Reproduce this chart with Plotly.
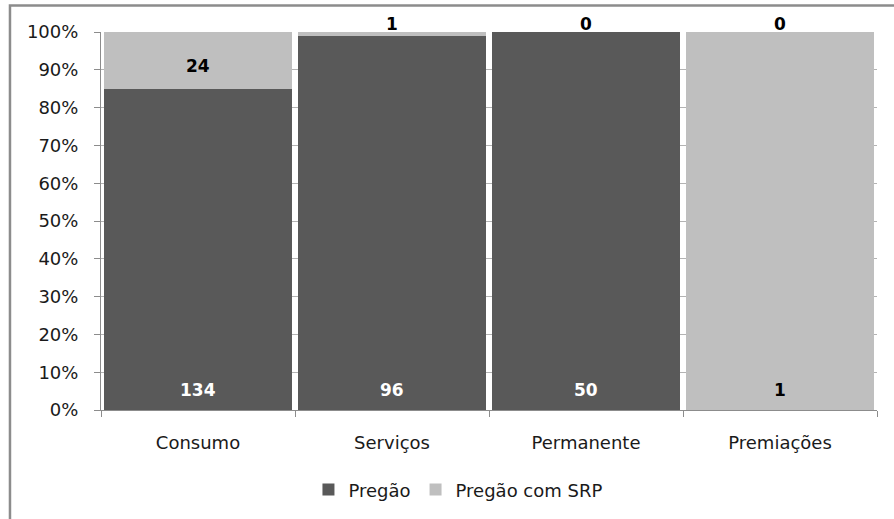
import plotly.graph_objects as go

categories = ["Consumo", "Serviços", "Permanente", "Premiações"]
pregao = [134, 96, 50, 1]
pregao_srp = [24, 1, 0, 0]

dark = "#595959"
light = "#bfbfbf"
# the last bar is shaded light in the source chart
pregao_colors = [dark, dark, dark, light]
pregao_text_colors = ["white", "white", "white", "black"]

font_family = "DejaVu Sans"
tick_size = 18
label_size = 17

fig = go.Figure()
fig.add_trace(go.Bar(
    name="Pregão", x=categories, y=pregao,
    marker=dict(color=pregao_colors, line=dict(width=0)),
))
fig.add_trace(go.Bar(
    name="Pregão com SRP", x=categories, y=pregao_srp,
    marker=dict(color=light, line=dict(width=0)),
))

# value labels: Pregão at the base, SRP in the middle of its segment (or just above the top)
annotations = []
for cat, a, b, tc in zip(categories, pregao, pregao_srp, pregao_text_colors):
    total = a + b
    annotations.append(dict(
        x=cat, y=0, xref="x", yref="y", text=f"<b>{a}</b>", showarrow=False,
        yanchor="bottom", yshift=8,
        font=dict(family=font_family, size=label_size, color=tc),
    ))
    share_a = 100.0 * a / total
    share_b = 100.0 * b / total
    if share_b >= 5:
        y, anchor, shift = share_a + share_b / 2, "middle", -5
    else:
        y, anchor, shift = 100, "bottom", -4
    annotations.append(dict(
        x=cat, y=y, xref="x", yref="y", text=f"<b>{b}</b>", showarrow=False,
        yanchor=anchor, yshift=shift,
        font=dict(family=font_family, size=label_size, color="black"),
    ))

fig.update_layout(
    width=894, height=519,
    margin=dict(l=101, r=17, t=32, b=108),
    paper_bgcolor="white", plot_bgcolor="white",
    barmode="stack", barnorm="percent", bargap=0.031,
    font=dict(family=font_family, size=tick_size, color="#1a1a1a"),
    showlegend=True,
    legend=dict(
        orientation="h", x=0.46, xanchor="center", y=-0.208, yanchor="middle",
        font=dict(family=font_family, size=tick_size, color="#1a1a1a"),
        itemwidth=30, traceorder="normal",
    ),
    annotations=annotations,
    shapes=[dict(
        type="rect", xref="paper", yref="paper",
        x0=-0.1173, x1=1.05, y0=-0.35, y1=1.07,
        line=dict(color="#8c8c8c", width=2.5), fillcolor="rgba(0,0,0,0)", layer="below",
    )],
)

fig.update_yaxes(
    range=[0, 100], dtick=10, ticksuffix="%",
    showgrid=True, gridcolor="#b3b3b3", gridwidth=1,
    showline=True, linecolor="#8c8c8c", linewidth=1,
    ticks="outside", ticklen=6, tickcolor="#8c8c8c",
    ticklabelstandoff=12, zeroline=False,
    tickfont=dict(family=font_family, size=tick_size, color="#1a1a1a"),
)
fig.update_xaxes(
    showline=True, linecolor="#8c8c8c", linewidth=1,
    ticks="outside", ticklen=6, tickcolor="#8c8c8c", tickson="boundaries",
    ticklabelstandoff=16,
    tickfont=dict(family=font_family, size=tick_size, color="#1a1a1a"),
)

fig.write_html("out.html")
